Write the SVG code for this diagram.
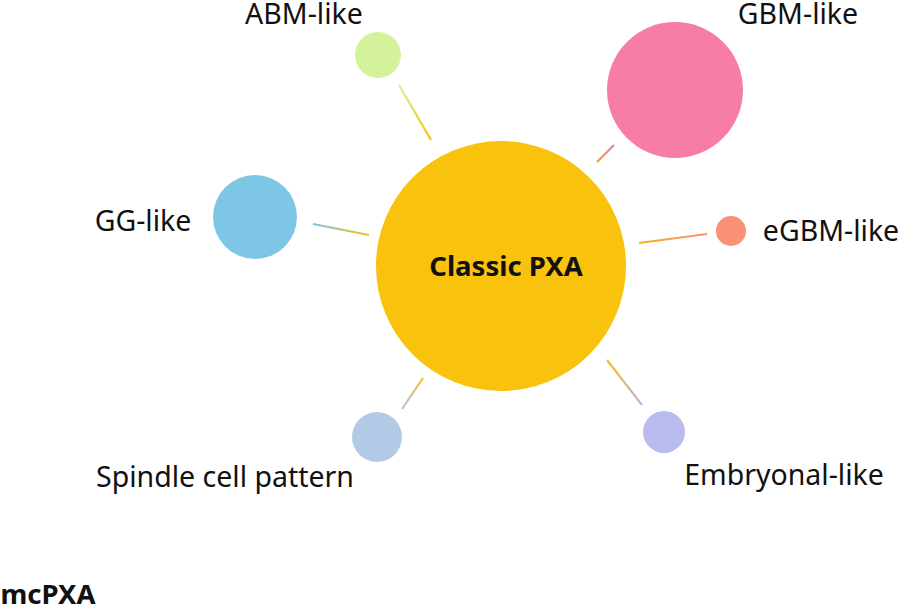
<svg xmlns="http://www.w3.org/2000/svg" width="898" height="607" viewBox="0 0 898 607">
<defs>
<style>
.lbl{font-family:"Source Sans Pro","Noto Sans","Liberation Sans",sans-serif;font-size:28.5px;fill:#111;text-anchor:middle}
.bold{font-weight:bold;font-size:27.5px}
.edge{stroke-width:2.2;fill:none;stroke-linecap:butt}
</style>
<linearGradient id="gABM" gradientUnits="userSpaceOnUse" x1="399" y1="85" x2="431" y2="140"><stop offset="0" stop-color="#d4f29a"/><stop offset="1" stop-color="#f7c10d"/></linearGradient>
<linearGradient id="gGBM" gradientUnits="userSpaceOnUse" x1="597" y1="162" x2="614" y2="145"><stop offset="0" stop-color="#f7a025"/><stop offset="1" stop-color="#f57ba6"/></linearGradient>
<linearGradient id="gGG" gradientUnits="userSpaceOnUse" x1="313" y1="224" x2="369" y2="235"><stop offset="0" stop-color="#7ec6e6"/><stop offset="1" stop-color="#f0c020"/></linearGradient>
<linearGradient id="gE" gradientUnits="userSpaceOnUse" x1="639" y1="243" x2="707" y2="234"><stop offset="0" stop-color="#f8b020"/><stop offset="1" stop-color="#fa9177"/></linearGradient>
<linearGradient id="gS" gradientUnits="userSpaceOnUse" x1="423" y1="378" x2="402" y2="409"><stop offset="0" stop-color="#f4c020"/><stop offset="1" stop-color="#aec6e2"/></linearGradient>
<linearGradient id="gEm" gradientUnits="userSpaceOnUse" x1="607" y1="360" x2="642" y2="405"><stop offset="0" stop-color="#f7c010"/><stop offset="1" stop-color="#b8b8ee"/></linearGradient>
</defs>
<rect width="898" height="607" fill="#ffffff"/>
<g id="connectors">
<line class="edge" x1="399" y1="85" x2="431" y2="140" stroke="url(#gABM)"/>
<line class="edge" x1="597" y1="162" x2="614" y2="145" stroke="url(#gGBM)"/>
<line class="edge" x1="313" y1="224" x2="369" y2="235" stroke="url(#gGG)"/>
<line class="edge" x1="639" y1="243" x2="707" y2="234" stroke="url(#gE)"/>
<line class="edge" x1="423" y1="378" x2="402" y2="409" stroke="url(#gS)"/>
<line class="edge" x1="607" y1="360" x2="642" y2="405" stroke="url(#gEm)"/>
</g>
<g id="classic">
<circle cx="501" cy="266" r="125" fill="#f8c20d"/>
<text class="lbl bold" x="506" y="276">Classic PXA</text>
</g>
<g id="gbm">
<circle cx="675" cy="90" r="68" fill="#f77ca6"/>
<text class="lbl" x="798" y="24">GBM-like</text>
</g>
<g id="abm">
<circle cx="378" cy="55" r="23" fill="#d4f29a"/>
<text class="lbl" x="304" y="24">ABM-like</text>
</g>
<g id="gg">
<circle cx="255" cy="217" r="42" fill="#7ec6e6"/>
<text class="lbl" x="143" y="231">GG-like</text>
</g>
<g id="egbm">
<circle cx="731" cy="231" r="15" fill="#fa9177"/>
<text class="lbl" x="831" y="241">eGBM-like</text>
</g>
<g id="spindle">
<circle cx="377" cy="437" r="25" fill="#b3cae6"/>
<text class="lbl" x="225" y="487">Spindle cell pattern</text>
</g>
<g id="embryonal">
<circle cx="664" cy="432" r="21" fill="#b9bbee"/>
<text class="lbl" x="784" y="485">Embryonal-like</text>
</g>
<g id="legend">
<text class="lbl bold" x="48" y="604">mcPXA</text>
</g>
</svg>
